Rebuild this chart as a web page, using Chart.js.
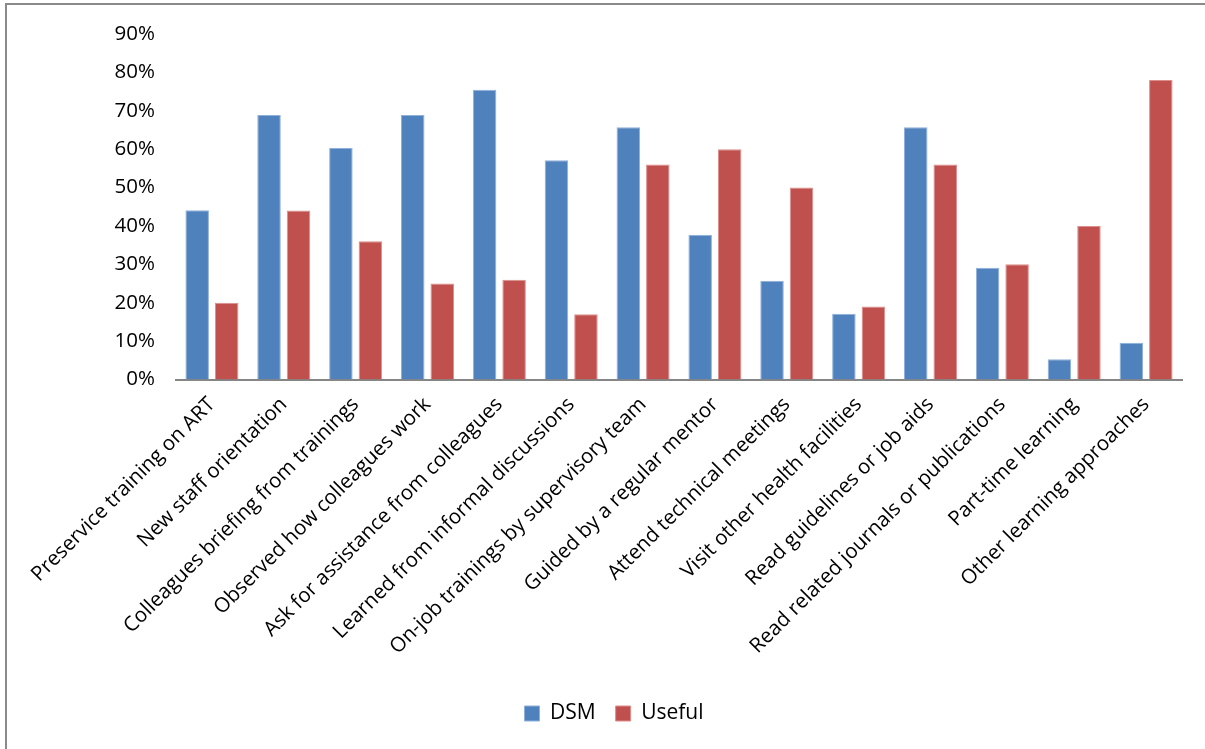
<!DOCTYPE html>
<html>
<head>
<meta charset="utf-8">
<script src="https://cdn.jsdelivr.net/npm/chart.js@4/dist/chart.umd.min.js"></script>
<style>
    html, body { margin: 0; padding: 0; background: #fff; }
    #wrap { position: relative; width: 1205px; height: 749px; overflow: hidden; }
    #frame { position: absolute; left: 5px; top: 3px; width: 1300px; height: 800px;
             border-top: 2px solid #8a8a8a; border-left: 2px solid #8a8a8a; }
    #chart { position: absolute; left: 0; top: 0; }
</style>
</head>
<body>
<div id="wrap">
    <div id="frame"></div>
    <canvas id="chart" width="1205" height="749"></canvas>
</div>
<script>
// Categories and series (percent)
const categories = [
    'Preservice training on ART',
    'New staff orientation',
    'Colleagues briefing from trainings',
    'Observed how colleagues work',
    'Ask for assistance from colleagues',
    'Learned from informal discussions',
    'On-job trainings by supervisory team',
    'Guided by a regular mentor',
    'Attend technical meetings',
    'Visit other health facilities',
    'Read guidelines or job aids',
    'Read related journals or publications',
    'Part-time learning',
    'Other learning approaches'
];
const dsm = [44.1, 68.9, 60.3, 68.9, 75.5, 57.1, 65.7, 37.7, 25.7, 17.1, 65.7, 29.1, 5.3, 9.6];
const useful = [20, 44, 36, 25, 26, 17, 56, 60, 50, 19, 56, 30, 40, 78];
const yTicks = [0, 10, 20, 30, 40, 50, 60, 70, 80, 90];

Chart.defaults.font.family = '"Open Sans", sans-serif';
Chart.defaults.font.size = 20.5;
Chart.defaults.color = '#000';

const ctx = document.getElementById('chart').getContext('2d');

new Chart(ctx, {
    type: 'bar',
    data: {
        labels: categories,
        datasets: [
            { label: 'DSM', data: dsm, backgroundColor: '#4F81BD', borderColor: '#8fb0da', borderWidth: 1 },
            { label: 'Useful', data: useful, backgroundColor: '#C0504D', borderColor: '#dc8f8d', borderWidth: 1 }
        ]
    },
    options: {
        responsive: false,
        animation: false,
        layout: { padding: { top: 34, right: 23, bottom: 15, left: 46 } },
        datasets: { bar: { categoryPercentage: 0.821, barPercentage: 0.797 } },
        plugins: {
            tooltip: { enabled: false },
            legend: {
                position: 'bottom',
                labels: { boxWidth: 15, boxHeight: 15, padding: 20, font: { size: 21 } }
            }
        },
        scales: {
            x: {
                grid: { display: false },
                border: { color: '#868686', width: 2 },
                ticks: { autoSkip: false, maxRotation: 45, minRotation: 45, padding: 5 },
                afterFit: scale => { scale.height = 303.5; }
            },
            y: {
                min: 0,
                max: 90,
                grid: { display: false },
                border: { display: false },
                afterBuildTicks: scale => { scale.ticks = yTicks.map(v => ({ value: v })); },
                ticks: { padding: 13, callback: v => v + '%' },
                afterFit: scale => { scale.width = 130; }
            }
        }
    }
});
</script>
</body>
</html>
